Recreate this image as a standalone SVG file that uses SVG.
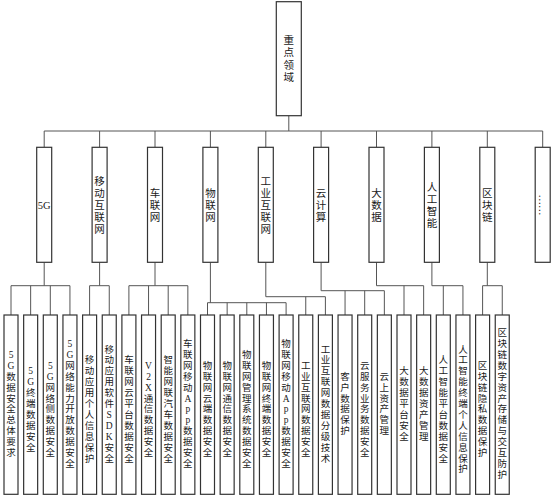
<svg xmlns="http://www.w3.org/2000/svg" width="554" height="499" viewBox="0 0 554 499">
<style>
.box{fill:#fff;stroke:#333;stroke-width:1.2}
.ln{fill:none;stroke:#555;stroke-width:1}
text{font-family:"Liberation Serif","Noto Sans CJK SC",serif;fill:#1a1a1a;text-anchor:middle;dominant-baseline:central}
.t1{font-size:10.5px}
.t3{font-size:9.5px}
</style>
<rect width="554" height="499" fill="#fff"/>
<g id="connectors">
<path class="ln" d="M288.8 115.7V131M44.2 131H542.7M44.2 131V147.3M99.6 131V147.3M155 131V147.3M210.4 131V147.3M265.8 131V147.3M321.1 131V147.3M376.5 131V147.3M431.9 131V147.3M487.3 131V147.3M542.7 131V147.3"/>
<path class="ln" d="M44.2 262.3V285.7M11 285.7H69.95M11 285.7V315M30.65 285.7V315M50.3 285.7V315M69.95 285.7V315"/>
<path class="ln" d="M99.6 262.3V285.7M89.6 285.7H109.25M89.6 285.7V315M109.25 285.7V315"/>
<path class="ln" d="M155 262.3V285.7M128.9 285.7H187.85M128.9 285.7V315M148.55 285.7V315M168.2 285.7V315M187.85 285.7V315"/>
<path class="ln" d="M210.4 262.3V302.7M207.5 302.7H286.1M207.5 302.7V315M227.15 302.7V315M246.8 302.7V315M266.45 302.7V315M286.1 302.7V315"/>
<path class="ln" d="M265.8 262.3V296.7H325.4M305.75 296.7V315M325.4 296.7V315"/>
<path class="ln" d="M321.1 262.3V290.7H384.35M345.05 290.7V315M364.7 290.7V315M384.35 290.7V315"/>
<path class="ln" d="M376.5 262.3V285.7H423.65M404 285.7V315M423.65 285.7V315"/>
<path class="ln" d="M431.9 262.3V285.7H462.95M443.3 285.7V315M462.95 285.7V315"/>
<path class="ln" d="M487.3 262.3V285.7M482.6 285.7H502.25M482.6 285.7V315M502.25 285.7V315"/>
</g>
<g id="root"><rect class="box" x="276.3" y="1.7" width="25" height="114"/>
<text class="t1"><tspan x="288.8" y="40.2">重</tspan><tspan x="288.8" y="52.4">点</tspan><tspan x="288.8" y="64.6">领</tspan><tspan x="288.8" y="76.8">域</tspan></text></g>
<g id="n5g"><rect class="box" x="36.7" y="147.3" width="15" height="115"/><text class="t1" x="44.2" y="205.5">5G</text></g>
<g id="nmobile"><rect class="box" x="92.1" y="147.3" width="15" height="115"/>
<text class="t1"><tspan x="99.6" y="180.6">移</tspan><tspan x="99.6" y="192.8">动</tspan><tspan x="99.6" y="205">互</tspan><tspan x="99.6" y="217.2">联</tspan><tspan x="99.6" y="229.4">网</tspan></text></g>
<g id="nv2x"><rect class="box" x="147.5" y="147.3" width="15" height="115"/>
<text class="t1"><tspan x="155" y="192.8">车</tspan><tspan x="155" y="205">联</tspan><tspan x="155" y="217.2">网</tspan></text></g>
<g id="niot"><rect class="box" x="202.9" y="147.3" width="15" height="115"/>
<text class="t1"><tspan x="210.4" y="192.8">物</tspan><tspan x="210.4" y="205">联</tspan><tspan x="210.4" y="217.2">网</tspan></text></g>
<g id="niiot"><rect class="box" x="258.3" y="147.3" width="15" height="115"/>
<text class="t1"><tspan x="265.8" y="180.6">工</tspan><tspan x="265.8" y="192.8">业</tspan><tspan x="265.8" y="205">互</tspan><tspan x="265.8" y="217.2">联</tspan><tspan x="265.8" y="229.4">网</tspan></text></g>
<g id="ncloud"><rect class="box" x="313.6" y="147.3" width="15" height="115"/>
<text class="t1"><tspan x="321.1" y="192.8">云</tspan><tspan x="321.1" y="205">计</tspan><tspan x="321.1" y="217.2">算</tspan></text></g>
<g id="nbig"><rect class="box" x="369" y="147.3" width="15" height="115"/>
<text class="t1"><tspan x="376.5" y="192.8">大</tspan><tspan x="376.5" y="205">数</tspan><tspan x="376.5" y="217.2">据</tspan></text></g>
<g id="nai"><rect class="box" x="424.4" y="147.3" width="15" height="115"/>
<text class="t1"><tspan x="431.9" y="186.7">人</tspan><tspan x="431.9" y="198.9">工</tspan><tspan x="431.9" y="211.1">智</tspan><tspan x="431.9" y="223.3">能</tspan></text></g>
<g id="nchain"><rect class="box" x="479.8" y="147.3" width="15" height="115"/>
<text class="t1"><tspan x="487.3" y="192.8">区</tspan><tspan x="487.3" y="205">块</tspan><tspan x="487.3" y="217.2">链</tspan></text></g>
<g id="nmore"><rect class="box" x="535.2" y="147.3" width="15" height="115"/>
<text class="t1" transform="rotate(90 542.7 205)" x="542.7" y="205">……</text></g>
<g id="l3">
<g id="c0"><rect class="box" x="4" y="315" width="14" height="179.3"/><text class="t3"><tspan x="11" y="354.95">5</tspan><tspan x="11" y="365.85">G</tspan><tspan x="11" y="376.75">数</tspan><tspan x="11" y="387.65">据</tspan><tspan x="11" y="398.55">安</tspan><tspan x="11" y="409.45">全</tspan><tspan x="11" y="420.35">总</tspan><tspan x="11" y="431.25">体</tspan><tspan x="11" y="442.15">要</tspan><tspan x="11" y="453.05">求</tspan></text></g>
<g id="c1"><rect class="box" x="23.65" y="315" width="14" height="179.3"/><text class="t3"><tspan x="30.65" y="371.3">5</tspan><tspan x="30.65" y="382.2">G</tspan><tspan x="30.65" y="393.1">终</tspan><tspan x="30.65" y="404">端</tspan><tspan x="30.65" y="414.9">数</tspan><tspan x="30.65" y="425.8">据</tspan><tspan x="30.65" y="436.7">安</tspan><tspan x="30.65" y="447.6">全</tspan></text></g>
<g id="c2"><rect class="box" x="43.3" y="315" width="14" height="179.3"/><text class="t3"><tspan x="50.3" y="365.85">5</tspan><tspan x="50.3" y="376.75">G</tspan><tspan x="50.3" y="387.65">网</tspan><tspan x="50.3" y="398.55">络</tspan><tspan x="50.3" y="409.45">侧</tspan><tspan x="50.3" y="420.35">数</tspan><tspan x="50.3" y="431.25">据</tspan><tspan x="50.3" y="442.15">安</tspan><tspan x="50.3" y="453.05">全</tspan></text></g>
<g id="c3"><rect class="box" x="62.95" y="315" width="14" height="179.3"/><text class="t3"><tspan x="69.95" y="344.05">5</tspan><tspan x="69.95" y="354.95">G</tspan><tspan x="69.95" y="365.85">网</tspan><tspan x="69.95" y="376.75">络</tspan><tspan x="69.95" y="387.65">能</tspan><tspan x="69.95" y="398.55">力</tspan><tspan x="69.95" y="409.45">开</tspan><tspan x="69.95" y="420.35">放</tspan><tspan x="69.95" y="431.25">数</tspan><tspan x="69.95" y="442.15">据</tspan><tspan x="69.95" y="453.05">安</tspan><tspan x="69.95" y="463.95">全</tspan></text></g>
<g id="c4"><rect class="box" x="82.6" y="315" width="14" height="179.3"/><text class="t3"><tspan x="89.6" y="360.4">移</tspan><tspan x="89.6" y="371.3">动</tspan><tspan x="89.6" y="382.2">应</tspan><tspan x="89.6" y="393.1">用</tspan><tspan x="89.6" y="404">个</tspan><tspan x="89.6" y="414.9">人</tspan><tspan x="89.6" y="425.8">信</tspan><tspan x="89.6" y="436.7">息</tspan><tspan x="89.6" y="447.6">保</tspan><tspan x="89.6" y="458.5">护</tspan></text></g>
<g id="c5"><rect class="box" x="102.25" y="315" width="14" height="179.3"/><text class="t3"><tspan x="109.25" y="349.5">移</tspan><tspan x="109.25" y="360.4">动</tspan><tspan x="109.25" y="371.3">应</tspan><tspan x="109.25" y="382.2">用</tspan><tspan x="109.25" y="393.1">软</tspan><tspan x="109.25" y="404">件</tspan><tspan x="109.25" y="414.9">S</tspan><tspan x="109.25" y="425.8">D</tspan><tspan x="109.25" y="436.7">K</tspan><tspan x="109.25" y="447.6">安</tspan><tspan x="109.25" y="458.5">全</tspan></text></g>
<g id="c6"><rect class="box" x="121.9" y="315" width="14" height="179.3"/><text class="t3"><tspan x="128.9" y="360.4">车</tspan><tspan x="128.9" y="371.3">联</tspan><tspan x="128.9" y="382.2">网</tspan><tspan x="128.9" y="393.1">云</tspan><tspan x="128.9" y="404">平</tspan><tspan x="128.9" y="414.9">台</tspan><tspan x="128.9" y="425.8">数</tspan><tspan x="128.9" y="436.7">据</tspan><tspan x="128.9" y="447.6">安</tspan><tspan x="128.9" y="458.5">全</tspan></text></g>
<g id="c7"><rect class="box" x="141.55" y="315" width="14" height="179.3"/><text class="t3"><tspan x="148.55" y="365.85">V</tspan><tspan x="148.55" y="376.75">2</tspan><tspan x="148.55" y="387.65">X</tspan><tspan x="148.55" y="398.55">通</tspan><tspan x="148.55" y="409.45">信</tspan><tspan x="148.55" y="420.35">数</tspan><tspan x="148.55" y="431.25">据</tspan><tspan x="148.55" y="442.15">安</tspan><tspan x="148.55" y="453.05">全</tspan></text></g>
<g id="c8"><rect class="box" x="161.2" y="315" width="14" height="179.3"/><text class="t3"><tspan x="168.2" y="360.4">智</tspan><tspan x="168.2" y="371.3">能</tspan><tspan x="168.2" y="382.2">网</tspan><tspan x="168.2" y="393.1">联</tspan><tspan x="168.2" y="404">汽</tspan><tspan x="168.2" y="414.9">车</tspan><tspan x="168.2" y="425.8">数</tspan><tspan x="168.2" y="436.7">据</tspan><tspan x="168.2" y="447.6">安</tspan><tspan x="168.2" y="458.5">全</tspan></text></g>
<g id="c9"><rect class="box" x="180.85" y="315" width="14" height="179.3"/><text class="t3"><tspan x="187.85" y="344.05">车</tspan><tspan x="187.85" y="354.95">联</tspan><tspan x="187.85" y="365.85">网</tspan><tspan x="187.85" y="376.75">移</tspan><tspan x="187.85" y="387.65">动</tspan><tspan x="187.85" y="398.55">A</tspan><tspan x="187.85" y="409.45">p</tspan><tspan x="187.85" y="420.35">p</tspan><tspan x="187.85" y="431.25">数</tspan><tspan x="187.85" y="442.15">据</tspan><tspan x="187.85" y="453.05">安</tspan><tspan x="187.85" y="463.95">全</tspan></text></g>
<g id="c10"><rect class="box" x="200.5" y="315" width="14" height="179.3"/><text class="t3"><tspan x="207.5" y="365.85">物</tspan><tspan x="207.5" y="376.75">联</tspan><tspan x="207.5" y="387.65">网</tspan><tspan x="207.5" y="398.55">云</tspan><tspan x="207.5" y="409.45">端</tspan><tspan x="207.5" y="420.35">数</tspan><tspan x="207.5" y="431.25">据</tspan><tspan x="207.5" y="442.15">安</tspan><tspan x="207.5" y="453.05">全</tspan></text></g>
<g id="c11"><rect class="box" x="220.15" y="315" width="14" height="179.3"/><text class="t3"><tspan x="227.15" y="365.85">物</tspan><tspan x="227.15" y="376.75">联</tspan><tspan x="227.15" y="387.65">网</tspan><tspan x="227.15" y="398.55">通</tspan><tspan x="227.15" y="409.45">信</tspan><tspan x="227.15" y="420.35">数</tspan><tspan x="227.15" y="431.25">据</tspan><tspan x="227.15" y="442.15">安</tspan><tspan x="227.15" y="453.05">全</tspan></text></g>
<g id="c12"><rect class="box" x="239.8" y="315" width="14" height="179.3"/><text class="t3"><tspan x="246.8" y="354.95">物</tspan><tspan x="246.8" y="365.85">联</tspan><tspan x="246.8" y="376.75">网</tspan><tspan x="246.8" y="387.65">管</tspan><tspan x="246.8" y="398.55">理</tspan><tspan x="246.8" y="409.45">系</tspan><tspan x="246.8" y="420.35">统</tspan><tspan x="246.8" y="431.25">数</tspan><tspan x="246.8" y="442.15">据</tspan><tspan x="246.8" y="453.05">安</tspan><tspan x="246.8" y="463.95">全</tspan></text></g>
<g id="c13"><rect class="box" x="259.45" y="315" width="14" height="179.3"/><text class="t3"><tspan x="266.45" y="365.85">物</tspan><tspan x="266.45" y="376.75">联</tspan><tspan x="266.45" y="387.65">网</tspan><tspan x="266.45" y="398.55">终</tspan><tspan x="266.45" y="409.45">端</tspan><tspan x="266.45" y="420.35">数</tspan><tspan x="266.45" y="431.25">据</tspan><tspan x="266.45" y="442.15">安</tspan><tspan x="266.45" y="453.05">全</tspan></text></g>
<g id="c14"><rect class="box" x="279.1" y="315" width="14" height="179.3"/><text class="t3"><tspan x="286.1" y="344.05">物</tspan><tspan x="286.1" y="354.95">联</tspan><tspan x="286.1" y="365.85">网</tspan><tspan x="286.1" y="376.75">移</tspan><tspan x="286.1" y="387.65">动</tspan><tspan x="286.1" y="398.55">A</tspan><tspan x="286.1" y="409.45">p</tspan><tspan x="286.1" y="420.35">p</tspan><tspan x="286.1" y="431.25">数</tspan><tspan x="286.1" y="442.15">据</tspan><tspan x="286.1" y="453.05">安</tspan><tspan x="286.1" y="463.95">全</tspan></text></g>
<g id="c15"><rect class="box" x="298.75" y="315" width="14" height="179.3"/><text class="t3"><tspan x="305.75" y="365.85">工</tspan><tspan x="305.75" y="376.75">业</tspan><tspan x="305.75" y="387.65">互</tspan><tspan x="305.75" y="398.55">联</tspan><tspan x="305.75" y="409.45">网</tspan><tspan x="305.75" y="420.35">数</tspan><tspan x="305.75" y="431.25">据</tspan><tspan x="305.75" y="442.15">安</tspan><tspan x="305.75" y="453.05">全</tspan></text></g>
<g id="c16"><rect class="box" x="318.4" y="315" width="14" height="179.3"/><text class="t3"><tspan x="325.4" y="349.5">工</tspan><tspan x="325.4" y="360.4">业</tspan><tspan x="325.4" y="371.3">互</tspan><tspan x="325.4" y="382.2">联</tspan><tspan x="325.4" y="393.1">网</tspan><tspan x="325.4" y="404">数</tspan><tspan x="325.4" y="414.9">据</tspan><tspan x="325.4" y="425.8">分</tspan><tspan x="325.4" y="436.7">级</tspan><tspan x="325.4" y="447.6">技</tspan><tspan x="325.4" y="458.5">术</tspan></text></g>
<g id="c17"><rect class="box" x="338.05" y="315" width="14" height="179.3"/><text class="t3"><tspan x="345.05" y="376.75">客</tspan><tspan x="345.05" y="387.65">户</tspan><tspan x="345.05" y="398.55">数</tspan><tspan x="345.05" y="409.45">据</tspan><tspan x="345.05" y="420.35">保</tspan><tspan x="345.05" y="431.25">护</tspan></text></g>
<g id="c18"><rect class="box" x="357.7" y="315" width="14" height="179.3"/><text class="t3"><tspan x="364.7" y="365.85">云</tspan><tspan x="364.7" y="376.75">服</tspan><tspan x="364.7" y="387.65">务</tspan><tspan x="364.7" y="398.55">业</tspan><tspan x="364.7" y="409.45">务</tspan><tspan x="364.7" y="420.35">数</tspan><tspan x="364.7" y="431.25">据</tspan><tspan x="364.7" y="442.15">安</tspan><tspan x="364.7" y="453.05">全</tspan></text></g>
<g id="c19"><rect class="box" x="377.35" y="315" width="14" height="179.3"/><text class="t3"><tspan x="384.35" y="376.75">云</tspan><tspan x="384.35" y="387.65">上</tspan><tspan x="384.35" y="398.55">资</tspan><tspan x="384.35" y="409.45">产</tspan><tspan x="384.35" y="420.35">管</tspan><tspan x="384.35" y="431.25">理</tspan></text></g>
<g id="c20"><rect class="box" x="397" y="315" width="14" height="179.3"/><text class="t3"><tspan x="404" y="371.3">大</tspan><tspan x="404" y="382.2">数</tspan><tspan x="404" y="393.1">据</tspan><tspan x="404" y="404">平</tspan><tspan x="404" y="414.9">台</tspan><tspan x="404" y="425.8">安</tspan><tspan x="404" y="436.7">全</tspan></text></g>
<g id="c21"><rect class="box" x="416.65" y="315" width="14" height="179.3"/><text class="t3"><tspan x="423.65" y="371.3">大</tspan><tspan x="423.65" y="382.2">数</tspan><tspan x="423.65" y="393.1">据</tspan><tspan x="423.65" y="404">资</tspan><tspan x="423.65" y="414.9">产</tspan><tspan x="423.65" y="425.8">管</tspan><tspan x="423.65" y="436.7">理</tspan></text></g>
<g id="c22"><rect class="box" x="436.3" y="315" width="14" height="179.3"/><text class="t3"><tspan x="443.3" y="360.4">人</tspan><tspan x="443.3" y="371.3">工</tspan><tspan x="443.3" y="382.2">智</tspan><tspan x="443.3" y="393.1">能</tspan><tspan x="443.3" y="404">平</tspan><tspan x="443.3" y="414.9">台</tspan><tspan x="443.3" y="425.8">数</tspan><tspan x="443.3" y="436.7">据</tspan><tspan x="443.3" y="447.6">安</tspan><tspan x="443.3" y="458.5">全</tspan></text></g>
<g id="c23"><rect class="box" x="455.95" y="315" width="14" height="179.3"/><text class="t3"><tspan x="462.95" y="349.5">人</tspan><tspan x="462.95" y="360.4">工</tspan><tspan x="462.95" y="371.3">智</tspan><tspan x="462.95" y="382.2">能</tspan><tspan x="462.95" y="393.1">终</tspan><tspan x="462.95" y="404">端</tspan><tspan x="462.95" y="414.9">个</tspan><tspan x="462.95" y="425.8">人</tspan><tspan x="462.95" y="436.7">信</tspan><tspan x="462.95" y="447.6">息</tspan><tspan x="462.95" y="458.5">保</tspan><tspan x="462.95" y="469.4">护</tspan></text></g>
<g id="c24"><rect class="box" x="475.6" y="315" width="14" height="179.3"/><text class="t3"><tspan x="482.6" y="365.85">区</tspan><tspan x="482.6" y="376.75">块</tspan><tspan x="482.6" y="387.65">链</tspan><tspan x="482.6" y="398.55">隐</tspan><tspan x="482.6" y="409.45">私</tspan><tspan x="482.6" y="420.35">数</tspan><tspan x="482.6" y="431.25">据</tspan><tspan x="482.6" y="442.15">保</tspan><tspan x="482.6" y="453.05">护</tspan></text></g>
<g id="c25"><rect class="box" x="495.25" y="315" width="14" height="179.3"/><text class="t3"><tspan x="502.25" y="333.15">区</tspan><tspan x="502.25" y="344.05">块</tspan><tspan x="502.25" y="354.95">链</tspan><tspan x="502.25" y="365.85">数</tspan><tspan x="502.25" y="376.75">字</tspan><tspan x="502.25" y="387.65">资</tspan><tspan x="502.25" y="398.55">产</tspan><tspan x="502.25" y="409.45">存</tspan><tspan x="502.25" y="420.35">储</tspan><tspan x="502.25" y="431.25">与</tspan><tspan x="502.25" y="442.15">交</tspan><tspan x="502.25" y="453.05">互</tspan><tspan x="502.25" y="463.95">防</tspan><tspan x="502.25" y="474.85">护</tspan></text></g>
</g>
</svg>
